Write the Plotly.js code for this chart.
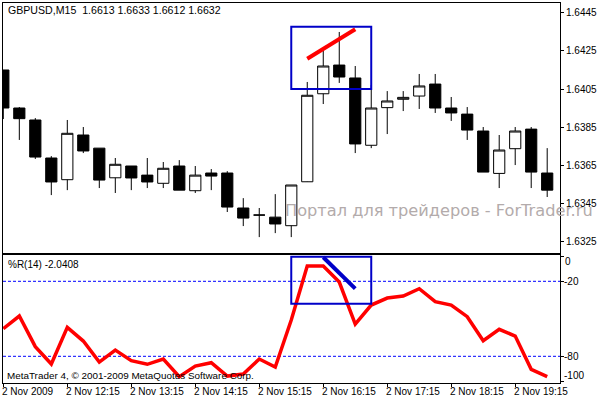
<!DOCTYPE html>
<html>
<head>
<meta charset="utf-8">
<script src="https://cdn.plot.ly/plotly-3.0.1.min.js"></script>
<style>html,body{margin:0;padding:0;background:#fff}</style>
</head>
<body>
<div id="chart" style="width:600px;height:400px"></div>
<script>
const bars = [0,1,2,3,4,5,6,7,8,9,10,11,12,13,14,15,16,17,18,19,20,21,22,23,24,25,26,27,28,29,30,31,32,33,34];
const open = [1.6415,1.6395,1.63887,1.63687,1.63573,1.63808,1.63739,1.63583,1.63645,1.63597,1.63554,1.63645,1.63515,1.63608,1.63608,1.63424,1.63387,1.63376,1.63331,1.63562,1.64025,1.64176,1.64108,1.63754,1.63952,1.63996,1.64013,1.64076,1.6395,1.63918,1.63829,1.63606,1.63736,1.63839,1.63608];
const high = [1.6415,1.63955,1.63897,1.63697,1.63887,1.6385,1.63739,1.63687,1.63645,1.63687,1.63666,1.63676,1.63645,1.63629,1.63618,1.63476,1.63424,1.63497,1.63545,1.64087,1.64255,1.6435,1.64171,1.64071,1.64039,1.64039,1.64129,1.64129,1.64008,1.63955,1.6385,1.63808,1.6385,1.6385,1.63739];
const low = [1.63892,1.63782,1.63682,1.63492,1.63518,1.63713,1.63529,1.63503,1.63518,1.63529,1.63529,1.63518,1.63503,1.63518,1.63403,1.63329,1.63271,1.63292,1.63271,1.63561,1.63971,1.64082,1.63713,1.63739,1.63813,1.63934,1.63945,1.63924,1.63882,1.63782,1.63613,1.63529,1.6365,1.63529,1.63482];
const close = [1.6395,1.63894,1.63692,1.63561,1.63817,1.63724,1.63571,1.63654,1.63582,1.63561,1.63633,1.63518,1.63597,1.63592,1.63429,1.63371,1.63387,1.6334,1.63545,1.64017,1.64171,1.64113,1.63761,1.6395,1.63987,1.64006,1.64066,1.6395,1.63924,1.63834,1.63613,1.63729,1.63829,1.63613,1.63518];
const wpr = [-57.9,-47.8,-72.3,-86.2,-56.8,-67.8,-84.6,-75,-83.5,-86.4,-82.2,-96.3,-87.8,-85.1,-95.8,-94.2,-82.2,-88.6,-51,-7.8,-7.8,-20.6,-54.2,-39,-33.4,-31.8,-25.9,-36.3,-39,-48.3,-67.5,-58.4,-63.8,-90.4,-96.3];

const timeBars = [0,4,8,12,16,20,24,28,32];
const timeLabels = ["2 Nov 2009","2 Nov 12:15","2 Nov 13:15","2 Nov 14:15","2 Nov 15:15","2 Nov 16:15","2 Nov 17:15","2 Nov 18:15","2 Nov 19:15"];
const priceTicks = [1.6445,1.6425,1.6405,1.6385,1.6365,1.6345,1.6325];
const priceLabels = ["1.6445","1.6425","1.6405","1.6385","1.6365","1.6345","1.6325"];
const wprTicks = [0,-20,-80,-100];
const wprLevels = [-20,-80];

// hand drawn marks on the screenshot
const priceArrowX = [19,22];
const priceArrowY = [1.64209,1.64364];
const wprArrowX = [20,22];
const wprArrowY = [-0.8,-25.9];
const boxX = [18,23];
const priceBoxY = [1.6405,1.64378];
const wprBoxY = [-37.9,-0.3];

const FONT = "Liberation Sans";
const W = 600, H = 400;

const traces = [
  {
    type: "candlestick",
    x: bars, open: open, high: high, low: low, close: close,
    xaxis: "x", yaxis: "y",
    whiskerwidth: 0,
    increasing: { line: { color: "#000", width: 1 }, fillcolor: "#fff" },
    decreasing: { line: { color: "#000", width: 1 }, fillcolor: "#000" },
    showlegend: false
  },
  {
    type: "scatter", mode: "lines",
    x: priceArrowX, y: priceArrowY,
    xaxis: "x", yaxis: "y",
    line: { color: "#f00", width: 4 }
  },
  {
    type: "scatter", mode: "lines",
    x: bars, y: wpr,
    xaxis: "x2", yaxis: "y2",
    line: { color: "#f00", width: 3.5 }
  },
  {
    type: "scatter", mode: "lines",
    x: wprArrowX, y: wprArrowY,
    xaxis: "x2", yaxis: "y2",
    line: { color: "#0000c8", width: 4 }
  }
];

const shapes = wprLevels.map(v => ({
  type: "line", xref: "paper", yref: "y2",
  x0: 3 / W, x1: 560 / W, y0: v, y1: v,
  layer: "below",
  line: { color: "#00f", width: 1, dash: "3px,2px" }
}));
shapes.push(
  { type: "rect", xref: "x", yref: "y", x0: boxX[0], x1: boxX[1], y0: priceBoxY[0], y1: priceBoxY[1], line: { color: "#0000c8", width: 2 } },
  { type: "rect", xref: "x2", yref: "y2", x0: boxX[0], x1: boxX[1], y0: wprBoxY[0], y1: wprBoxY[1], line: { color: "#0000c8", width: 2 } }
);

function label(text, px, py, extra) {
  return Object.assign({
    text: text, xref: "paper", yref: "paper",
    x: px / W, y: 1 - py / H,
    xanchor: "left", yanchor: "middle",
    showarrow: false, borderpad: 0,
    font: { family: FONT, size: 10, color: "#000" }
  }, extra);
}

const annotations = [
  label("GBPUSD,M15&nbsp;&nbsp;1.6613 1.6633 1.6612 1.6632", 7, 10, {
    font: { family: FONT, size: 10.6, color: "#000" }
  }),
  label("%R(14) -2.0408", 7, 264.5),
  label("MetaTrader 4, © 2001-2009 MetaQuotes Software Corp.", 6, 375, {
    font: { family: FONT, size: 9.9, color: "#000" }
  }),
  label("0", 564, 261),
  label("-20", 563, 281),
  label("-80", 563, 356),
  label("-100", 563, 375),
  label("Портал для трейдеров - ForTrader.ru", 284, 210, {
    font: { family: "DejaVu Sans", size: 16.2, color: "#b3abab" }
  })
];
timeBars.forEach((b, i) => {
  annotations.push({
    text: timeLabels[i], xref: "x2", yref: "paper",
    x: b, y: 1 - 391.5 / H,
    xanchor: "left", yanchor: "middle", xshift: -2,
    showarrow: false, borderpad: 0,
    font: { family: FONT, size: 10, color: "#000" }
  });
});

const xRange = [-0.02, 34.8];
const xCommon = {
  type: "linear", range: xRange, domain: [3 / W, 560 / W],
  showgrid: false, zeroline: false,
  showline: true, mirror: true, linecolor: "#000", linewidth: 1,
  rangeslider: { visible: false }
};

const layout = {
  width: W, height: H,
  margin: { l: 0, r: 0, t: 0, b: 0 },
  paper_bgcolor: "#fff", plot_bgcolor: "#fff",
  showlegend: false,
  boxgap: 0.3,
  boxgroupgap: 0,
  font: { family: FONT, size: 10, color: "#000" },
  xaxis: Object.assign({}, xCommon, { anchor: "y", showticklabels: false, ticks: "" }),
  yaxis: {
    domain: [1 - 252.5 / H, 1 - 2.5 / H],
    range: [1.6319, 1.64505],
    anchor: "x", side: "right",
    tickmode: "array", tickvals: priceTicks, ticktext: priceLabels,
    ticks: "outside", ticklen: 3, tickcolor: "#000",
    showgrid: false, zeroline: false,
    showline: true, mirror: true, linecolor: "#000", linewidth: 1
  },
  xaxis2: Object.assign({}, xCommon, {
    anchor: "y2",
    tickmode: "array", tickvals: timeBars, showticklabels: false,
    ticks: "outside", ticklen: 3, tickcolor: "#000"
  }),
  yaxis2: {
    domain: [1 - 382.5 / H, 1 - 254.5 / H],
    range: [-100.96, 1.44],
    anchor: "x2", side: "right",
    tickmode: "array", tickvals: wprTicks, showticklabels: false,
    ticks: "outside", ticklen: 3, tickcolor: "#000",
    showgrid: false, zeroline: false,
    showline: true, mirror: true, linecolor: "#000", linewidth: 1
  },
  shapes: shapes,
  annotations: annotations
};

Plotly.newPlot("chart", traces, layout, { staticPlot: true, displayModeBar: false });
</script>
</body>
</html>
